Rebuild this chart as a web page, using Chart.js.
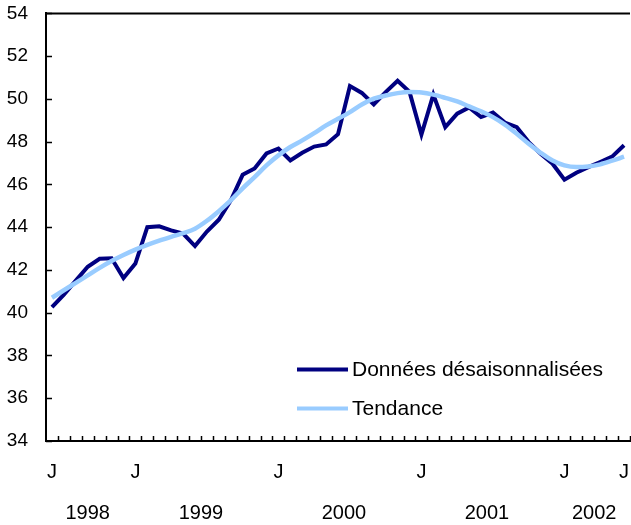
<!DOCTYPE html>
<html>
<head>
<meta charset="utf-8">
<script src="https://cdn.jsdelivr.net/npm/chart.js@4/dist/chart.umd.min.js"></script>
<style>
  html, body { margin: 0; padding: 0; background: #ffffff; }
  #wrap { width: 631px; height: 525px; position: relative; }
</style>
</head>
<body>
<div id="wrap"><canvas id="chart"></canvas></div>
<script>
// Monthly categories, June 1998 to June 2002
const months = [
  '1998-06', '1998-07', '1998-08', '1998-09', '1998-10', '1998-11', '1998-12',
  '1999-01', '1999-02', '1999-03', '1999-04', '1999-05', '1999-06',
  '1999-07', '1999-08', '1999-09', '1999-10', '1999-11', '1999-12',
  '2000-01', '2000-02', '2000-03', '2000-04', '2000-05', '2000-06',
  '2000-07', '2000-08', '2000-09', '2000-10', '2000-11', '2000-12',
  '2001-01', '2001-02', '2001-03', '2001-04', '2001-05', '2001-06',
  '2001-07', '2001-08', '2001-09', '2001-10', '2001-11', '2001-12',
  '2002-01', '2002-02', '2002-03', '2002-04', '2002-05', '2002-06'
];

// Months that get a letter under the axis
const labeledMonths = ['1998-06', '1999-01', '2000-01', '2001-01', '2002-01', '2002-06'];
const monthLetters = ['J', 'F', 'M', 'A', 'M', 'J', 'J', 'A', 'S', 'O', 'N', 'D'];
const years = ['1998', '1999', '2000', '2001', '2002'];

// Seasonally adjusted series
const seasonallyAdjusted = [
  40.26, 40.85, 41.50, 42.15, 42.52, 42.55, 41.62,
  42.30, 44.00, 44.04, 43.85, 43.70, 43.12,
  43.80, 44.35, 45.25, 46.45, 46.75, 47.45,
  47.68, 47.12, 47.48, 47.77, 47.87, 48.35,
  50.60, 50.28, 49.74, 50.32, 50.85, 50.33,
  48.33, 50.20, 48.68, 49.31, 49.60, 49.15,
  49.36, 48.89, 48.68, 47.98, 47.44, 46.97,
  46.22, 46.55, 46.81, 47.05, 47.30, 47.83
];

// Trend series
const trend = [
  40.70, 41.05, 41.40, 41.75, 42.10, 42.42, 42.70,
  42.95, 43.17, 43.37, 43.55, 43.72, 43.93,
  44.30, 44.75, 45.25, 45.82, 46.34, 46.89,
  47.36, 47.75, 48.06, 48.40, 48.76, 49.07,
  49.38, 49.74, 50.01, 50.16, 50.27, 50.32,
  50.30, 50.20, 50.05, 49.88, 49.65, 49.42,
  49.15, 48.80, 48.37, 47.90, 47.48, 47.12,
  46.89, 46.81, 46.84, 46.94, 47.11, 47.30
];

const yTicks = { min: 34, max: 54, step: 2 };

const FONT = '"Liberation Sans", Arial, sans-serif';

// Ticks pointing into the plot, top border, month/year rows and legend
const decorations = {
  id: 'decorations',
  beforeDatasetsDraw(chart) {
    const { ctx, chartArea: ca, scales } = chart;
    ctx.save();
    ctx.strokeStyle = '#000000';
    ctx.lineWidth = 1.5;
    ctx.beginPath();
    // x ticks between months
    for (let i = 0; i < months.length; i++) {
      const px = Math.round(scales.x.getPixelForValue(i + 0.5)) + 0.5;
      ctx.moveTo(px, ca.bottom);
      ctx.lineTo(px, ca.bottom - 5);
    }
    // y ticks
    scales.y.ticks.forEach(t => {
      const py = Math.round(scales.y.getPixelForValue(t.value)) + 0.5;
      ctx.moveTo(ca.left, py);
      ctx.lineTo(ca.left + 6, py);
    });
    ctx.stroke();
    // top border
    ctx.lineWidth = 2;
    ctx.beginPath();
    ctx.moveTo(ca.left, ca.top);
    ctx.lineTo(ca.right, ca.top);
    ctx.stroke();
    ctx.restore();
  },
  afterDraw(chart) {
    const { ctx, chartArea: ca, scales } = chart;
    ctx.save();
    ctx.fillStyle = '#000000';
    ctx.font = '20px ' + FONT;
    ctx.textAlign = 'center';
    ctx.textBaseline = 'middle';
    // month letters
    labeledMonths.forEach(m => {
      const i = months.indexOf(m);
      ctx.fillText(monthLetters[parseInt(m.slice(5), 10) - 1], scales.x.getPixelForValue(i), ca.bottom + 31);
    });
    // year labels centred under their months
    years.forEach(yr => {
      const idx = months.map((m, i) => m.startsWith(yr) ? i : -1).filter(i => i >= 0);
      const mid = (idx[0] + idx[idx.length - 1]) / 2;
      ctx.fillText(yr, scales.x.getPixelForValue(mid), ca.bottom + 72);
    });
    // legend
    ctx.font = '21px ' + FONT;
    const lx = ca.left + 251;
    let ly = ca.top + 356;
    ctx.textAlign = 'left';
    chart.data.datasets.forEach(ds => {
      ctx.strokeStyle = ds.borderColor;
      ctx.lineWidth = 4;
      ctx.beginPath();
      ctx.moveTo(lx, ly);
      ctx.lineTo(lx + 51, ly);
      ctx.stroke();
      ctx.fillText(ds.label, lx + 55, ly + 1);
      ly += 39;
    });
    ctx.restore();
  }
};

new Chart(document.getElementById('chart'), {
  type: 'line',
  data: {
    labels: months,
    datasets: [
      {
        label: 'Données désaisonnalisées',
        data: seasonallyAdjusted,
        borderColor: '#000080',
        borderWidth: 4,
        pointRadius: 0,
        tension: 0,
        order: 1
      },
      {
        label: 'Tendance',
        data: trend,
        borderColor: '#99CCFF',
        borderWidth: 4.5,
        pointRadius: 0,
        cubicInterpolationMode: 'monotone',
        order: 0
      }
    ]
  },
  options: {
    responsive: true,
    maintainAspectRatio: false,
    animation: false,
    layout: { padding: { top: 0, right: 1, left: 0, bottom: 0 } },
    plugins: {
      legend: { display: false },
      tooltip: { enabled: false }
    },
    scales: {
      x: {
        type: 'category',
        offset: true,
        grid: { display: false, drawTicks: false },
        border: { display: true, color: '#000000', width: 2 },
        ticks: { display: false },
        afterFit: scale => { scale.height = 84; }
      },
      y: {
        min: yTicks.min,
        max: yTicks.max,
        grid: {
          display: true,
          drawOnChartArea: false,
          drawTicks: true,
          tickLength: 16,
          tickColor: 'rgba(0,0,0,0)'
        },
        border: { display: true, color: '#000000', width: 2 },
        ticks: {
          stepSize: yTicks.step,
          padding: 2,
          color: '#000000',
          font: { family: FONT, size: 19 }
        },
        afterFit: scale => { scale.width = 46; }
      }
    }
  },
  plugins: [decorations]
});
</script>
</body>
</html>
